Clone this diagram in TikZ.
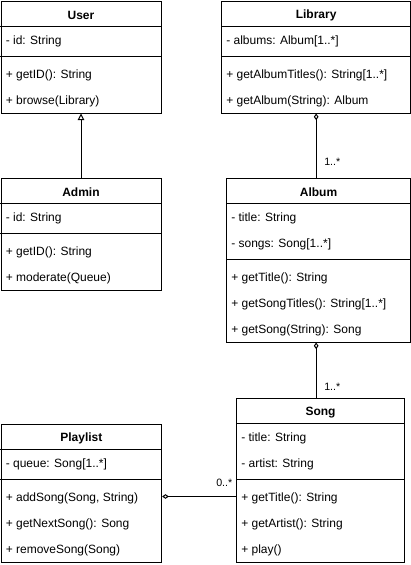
\documentclass[tikz,border=0pt]{standalone}
\usepackage{fontspec}
\setmainfont{Liberation Sans}
\usetikzlibrary{arrows.meta,calc}

\tikzset{
  classbox/.style={draw, rectangle, anchor=north west, inner sep=0pt, line width=0.75pt},
  classname/.style={inner sep=0pt, yshift=-1.2pt, font=\bfseries\fontsize{9}{11}\selectfont},
  member/.style={anchor=west, inner sep=0pt, yshift=-1.2pt, font=\fontsize{9}{11}\selectfont},
  mult/.style={anchor=west, inner sep=0pt, font=\fontsize{8}{10}\selectfont},
  divider/.style={line width=0.75pt},
  inherit/.style={-{Triangle[open, length=5pt, width=5pt]}, line width=0.75pt},
  aggr/.style={-{Diamond[open, length=5pt, width=3.5pt]}, line width=0.75pt},
}

\begin{document}
\begin{tikzpicture}[x=0.75pt, y=-0.75pt]
\useasboundingbox (0,0) rectangle (411,565);

% classes
\node[classbox, minimum width=120pt, minimum height=84pt] (user) at (0.5, 0.5) {};
\node[classbox, minimum width=120pt, minimum height=84pt] (admin) at (0.5, 177.5) {};
\node[classbox, minimum width=142pt, minimum height=84pt] (library) at (221, 0.5) {};
\node[classbox, minimum width=138pt, minimum height=123pt] (album) at (226, 177.5) {};
\node[classbox, minimum width=126pt, minimum height=123pt] (song) at (236, 397.5) {};
\node[classbox, minimum width=120.5pt, minimum height=103.5pt] (playlist) at (0.5, 423.5) {};

% User
\node[classname] (user-title) at ($(user.north)+(0,13)$) {User};
\draw[divider] ($(user.north west)+(0,26)$) -- ($(user.north east)+(0,26)$);
\node[member] (user-id) at ($(user.north west)+(5,39)$) {- id: String};
\draw[divider] ($(user.north west)+(0,56)$) -- ($(user.north east)+(0,56)$);
\node[member] (user-getid) at ($(user.north west)+(5,73)$) {+ getID(): String};
\node[member] (user-browse) at ($(user.north west)+(5,99)$) {+ browse(Library)};

% Admin
\node[classname] (admin-title) at ($(admin.north)+(0,13)$) {Admin};
\draw[divider] ($(admin.north west)+(0,26)$) -- ($(admin.north east)+(0,26)$);
\node[member] (admin-id) at ($(admin.north west)+(5,39)$) {- id: String};
\draw[divider] ($(admin.north west)+(0,56)$) -- ($(admin.north east)+(0,56)$);
\node[member] (admin-getid) at ($(admin.north west)+(5,73)$) {+ getID(): String};
\node[member] (admin-moderate) at ($(admin.north west)+(5,99)$) {+ moderate(Queue)};

% Library
\node[classname] (library-title) at ($(library.north)+(0,13)$) {Library};
\draw[divider] ($(library.north west)+(0,26)$) -- ($(library.north east)+(0,26)$);
\node[member] (library-albums) at ($(library.north west)+(5,39)$) {- albums: Album[1..*]};
\draw[divider] ($(library.north west)+(0,56)$) -- ($(library.north east)+(0,56)$);
\node[member] (library-titles) at ($(library.north west)+(5,73)$) {+ getAlbumTitles(): String[1..*]};
\node[member] (library-getalbum) at ($(library.north west)+(5,99)$) {+ getAlbum(String): Album};

% Album
\node[classname] (album-title) at ($(album.north)+(0,13)$) {Album};
\draw[divider] ($(album.north west)+(0,26)$) -- ($(album.north east)+(0,26)$);
\node[member] (album-t) at ($(album.north west)+(5,39)$) {- title: String};
\node[member] (album-songs) at ($(album.north west)+(5,65)$) {- songs: Song[1..*]};
\draw[divider] ($(album.north west)+(0,82)$) -- ($(album.north east)+(0,82)$);
\node[member] (album-gettitle) at ($(album.north west)+(5,99)$) {+ getTitle(): String};
\node[member] (album-songtitles) at ($(album.north west)+(5,125)$) {+ getSongTitles(): String[1..*]};
\node[member] (album-getsong) at ($(album.north west)+(5,151)$) {+ getSong(String): Song};

% Song
\node[classname] (song-title) at ($(song.north)+(0,13)$) {Song};
\draw[divider] ($(song.north west)+(0,26)$) -- ($(song.north east)+(0,26)$);
\node[member] (song-t) at ($(song.north west)+(5,39)$) {- title: String};
\node[member] (song-artist) at ($(song.north west)+(5,65)$) {- artist: String};
\draw[divider] ($(song.north west)+(0,82)$) -- ($(song.north east)+(0,82)$);
\node[member] (song-gettitle) at ($(song.north west)+(5,99)$) {+ getTitle(): String};
\node[member] (song-getartist) at ($(song.north west)+(5,125)$) {+ getArtist(): String};
\node[member] (song-play) at ($(song.north west)+(5,151)$) {+ play()};

% Playlist
\node[classname] (playlist-title) at ($(playlist.north)+(0,13)$) {Playlist};
\draw[divider] ($(playlist.north west)+(0,26)$) -- ($(playlist.north east)+(0,26)$);
\node[member] (playlist-queue) at ($(playlist.north west)+(5,39)$) {- queue: Song[1..*]};
\draw[divider] ($(playlist.north west)+(0,56)$) -- ($(playlist.north east)+(0,56)$);
\node[member] (playlist-add) at ($(playlist.north west)+(5,73)$) {+ addSong(Song, String)};
\node[member] (playlist-next) at ($(playlist.north west)+(5,99)$) {+ getNextSong(): Song};
\node[member] (playlist-remove) at ($(playlist.north west)+(5,125)$) {+ removeSong(Song)};

% relations
\coordinate (plmid) at ($(playlist.north east)+(0,73)$);
\draw[inherit] (admin.north) -- (user.south);
\draw[aggr] (album.north -| library.south) -- (library.south);
\draw[aggr] (song.north -| library.south) -- (album.south -| library.south);
\draw[aggr] (song.west |- plmid) -- (plmid);

\node[mult] (m-album) at (324, 162) {1..*};
\node[mult] (m-song) at (324, 387) {1..*};
\node[mult] (m-playlist) at (216, 483) {0..*};
\end{tikzpicture}
\end{document}
